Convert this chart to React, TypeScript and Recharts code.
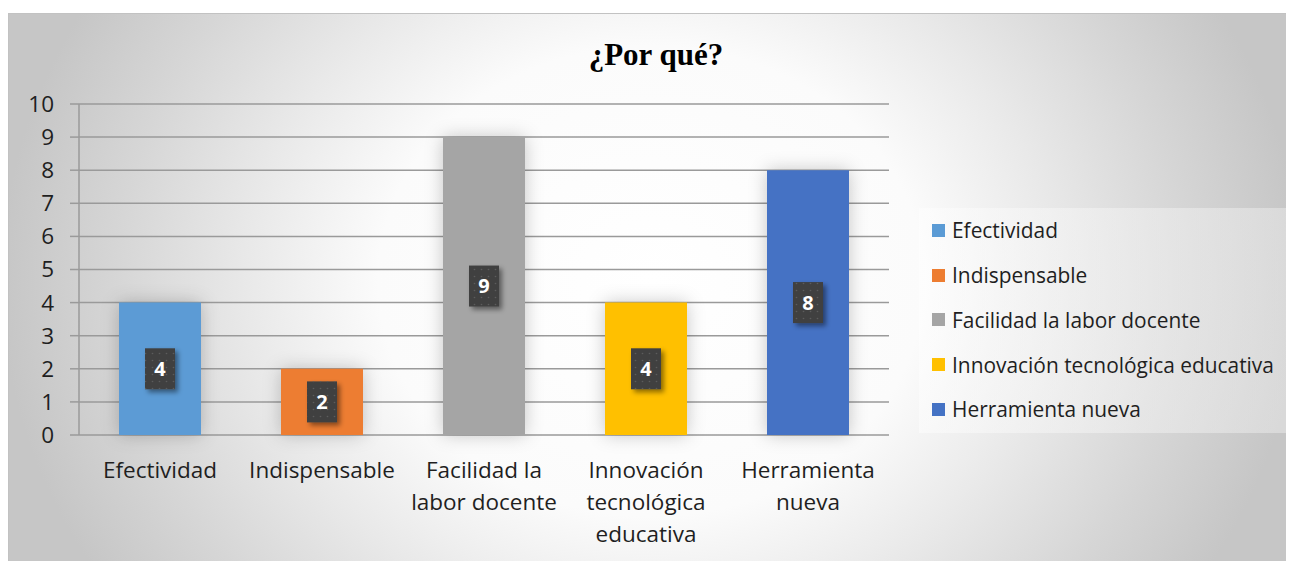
import React from 'react';
import { Bar, BarChart, CartesianGrid, Cell, LabelList, Legend, XAxis, YAxis } from 'recharts';

const categories = [
  'Efectividad',
  'Indispensable',
  'Facilidad la labor docente',
  'Innovación tecnológica educativa',
  'Herramienta nueva'
];
// axis labels as they wrap in the picture
const categoryLines = [
  ['Efectividad'],
  ['Indispensable'],
  ['Facilidad la', 'labor docente'],
  ['Innovación', 'tecnológica', 'educativa'],
  ['Herramienta', 'nueva']
];
const values = [4, 2, 9, 4, 8];
const colors = ['#5B9BD5', '#ED7D31', '#A5A5A5', '#FFC000', '#4472C4'];
const yTicks = [0, 1, 2, 3, 4, 5, 6, 7, 8, 9, 10];
const edgeTicks = [0, 1, 2, 3, 4, 5];

const data = categories.map((name, i) => ({ name, value: values[i], pos: i + 0.5 }));

const FONT = '"Open Sans", sans-serif';
const TEXT = '#1f1f1f';
const AXIS = '#9a9a9a';

const CategoryTick = (props: any) => {
  const { x, y, payload, index } = props;
  const lines = categoryLines[index] ?? [payload.value];
  return (
    <text x={x} y={y + 43} textAnchor="middle" fill={TEXT} fontSize={22.5} fontFamily={FONT}>
      {lines.map((line: string, i: number) => (
        <tspan key={line} x={x} dy={i === 0 ? 0 : 32}>
          {line}
        </tspan>
      ))}
    </text>
  );
};

const ValueLabel = (props: any) => {
  const { x, y, width, height, value } = props;
  const cx = x + width / 2;
  const cy = y + height / 2;
  return (
    <g>
      <rect x={cx - 15} y={cy - 20.5} width={30} height={41} fill="#404040" filter="url(#labelShadow)" />
      <rect x={cx - 15} y={cy - 20.5} width={30} height={41} fill="url(#dots)" />
      <text
        x={cx}
        y={cy + 7}
        textAnchor="middle"
        fill="#ffffff"
        fontSize={20}
        fontWeight="bold"
        fontFamily={FONT}
      >
        {value}
      </text>
    </g>
  );
};

const LegendBox = () => (
  <div
    style={{
      width: 367,
      height: 225,
      boxSizing: 'border-box',
      background: 'linear-gradient(90deg, rgba(255,255,255,0.45), rgba(240,240,240,0.45))',
      paddingTop: 0,
      paddingLeft: 13
    }}
  >
    {categories.map((name, i) => (
      <div key={name} style={{ display: 'flex', alignItems: 'center', height: 44.75 }}>
        <span style={{ width: 13, height: 13, background: colors[i], marginRight: 7, flexShrink: 0 }} />
        <span style={{ fontFamily: FONT, fontSize: 20.9, color: TEXT, whiteSpace: 'nowrap' }}>{name}</span>
      </div>
    ))}
  </div>
);

export default function App() {
  return (
    <div
      style={{
        marginTop: 5,
        width: 1286,
        height: 548,
        position: 'relative',
        boxSizing: 'border-box',
        borderTop: '1px solid #c2c2c2',
        borderLeft: '1px solid #c2c2c2',
        background:
          'radial-gradient(ellipse 650px 560px at 642px 267px, #ffffff 0%, #fbfbfb 42%, #e9e9e9 62%, #d6d6d6 82%, #c6c6c6 100%)'
      }}
    >
      <div
        style={{
          position: 'absolute',
          left: 0,
          top: 23,
          width: 1294,
          textAlign: 'center',
          fontFamily: '"Liberation Serif", serif',
          fontWeight: 'bold',
          fontSize: 31,
          color: '#000'
        }}
      >
        ¿Por qué?
      </div>
      <BarChart
        width={1285}
        height={547}
        data={data}
        margin={{ top: 90, right: 405, left: 0, bottom: 6 }}
        style={{ position: 'absolute', left: 0, top: 0 }}
      >
        <defs>
          <filter id="barShadow" x="-50%" y="-50%" width="200%" height="200%">
            <feDropShadow dx="0" dy="0" stdDeviation="9" floodColor="#000" floodOpacity="0.22" />
          </filter>
          <filter id="labelShadow" x="-50%" y="-50%" width="200%" height="200%">
            <feDropShadow dx="3" dy="3" stdDeviation="2.5" floodColor="#000" floodOpacity="0.45" />
          </filter>
          <pattern id="dots" width="7" height="7" patternUnits="userSpaceOnUse">
            <circle cx="3.5" cy="3.5" r="0.8" fill="#5c5c5c" />
          </pattern>
        </defs>
        <CartesianGrid vertical={false} stroke={AXIS} strokeWidth={1.5} />
        <XAxis
          xAxisId="edges"
          type="number"
          dataKey="pos"
          domain={[0, 5]}
          ticks={edgeTicks}
          height={0}
          tick={false}
          tickSize={8}
          stroke={AXIS}
          strokeWidth={1.5}
        />
        <XAxis
          dataKey="name"
          height={120}
          axisLine={false}
          tickLine={false}
          tickSize={0}
          tickMargin={0}
          interval={0}
          tick={<CategoryTick />}
        />
        <YAxis
          width={70}
          domain={[0, 10]}
          ticks={yTicks}
          interval={0}
          tickSize={9}
          tickMargin={16}
          stroke={AXIS}
          strokeWidth={1.5}
          tick={{ fill: TEXT, fontSize: 22.5, fontFamily: FONT }}
        />
        <Bar dataKey="value" barSize={82} isAnimationActive={false}>
          {data.map((d, i) => (
            <Cell key={d.name} fill={colors[i]} filter="url(#barShadow)" />
          ))}
          <LabelList dataKey="value" content={<ValueLabel />} />
        </Bar>
        <Legend
          layout="horizontal"
          verticalAlign="middle"
          align="center"
          content={<LegendBox />}
          wrapperStyle={{ left: 910, top: 194, width: 367, height: 225 }}
        />
      </BarChart>
    </div>
  );
}
